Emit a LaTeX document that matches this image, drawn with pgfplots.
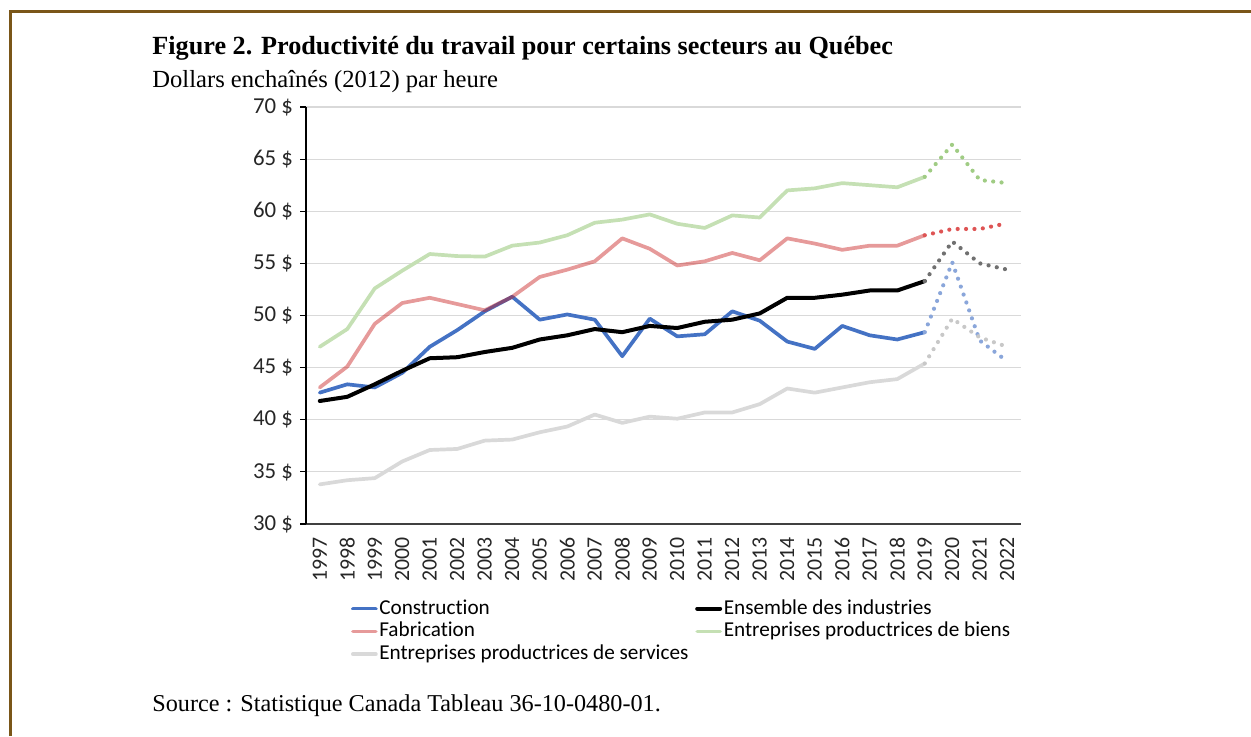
\documentclass[border=0pt]{standalone}
\usepackage{fontspec}
\setmainfont{Liberation Serif}
\newfontfamily\carlito[Ligatures=NoCommon]{Carlito}
\usepackage{pgfplots}
\pgfplotsset{compat=1.18}
\definecolor{framebrown}{RGB}{122,86,24}
\definecolor{cblue}{RGB}{68,114,196}
\definecolor{cblued}{RGB}{138,166,218}
\definecolor{cred}{RGB}{200,30,30}
\definecolor{credd}{RGB}{222,84,84}
\definecolor{cgreen}{RGB}{197,224,180}
\definecolor{cgreend}{RGB}{160,204,132}
\definecolor{cgray}{RGB}{217,217,217}
\definecolor{cgrayd}{RGB}{200,200,200}
\definecolor{cblackd}{RGB}{112,112,112}
\definecolor{gridgray}{RGB}{217,217,217}
\begin{document}
\begin{tikzpicture}
\path[use as bounding box] (0,0) rectangle (625.5pt,368pt);
\draw[framebrown, line width=1.5pt] (5pt,0pt) -- (5pt,362.5pt) -- (625.5pt,362.5pt);
\node[anchor=base west, inner sep=0pt, font=\bfseries\fontsize{13.1}{15}\selectfont] at (76pt,341pt) {Figure 2. Productivité du travail pour certains secteurs au Québec};
\node[anchor=base west, inner sep=0pt, font=\fontsize{12.3}{14}\selectfont] at (76pt,324.5pt) {Dollars enchaînés (2012) par heure};
\node[anchor=base west, inner sep=0pt, font=\fontsize{12.1}{14}\selectfont] at (76pt,12.5pt) {Source : Statistique Canada Tableau 36-10-0480-01.};
\begin{axis}[
  at={(153pt,106pt)}, anchor=south west, scale only axis,
  width=357.5pt, height=208.5pt,
  xmin=1996.5, xmax=2022.5, ymin=30, ymax=70,
  xtick={1997,...,2022}, ytick={30,35,...,70},
  axis x line=bottom, axis y line=left,
  x axis line style={-, draw=black!75, line width=0.8pt},
  y axis line style={-, draw=black, line width=0.7pt},
  ymajorgrids, grid style={draw=gridgray, line width=0.6pt},
  tick align=outside, major tick length=3pt,
  xtick style={draw=none},
  ytick style={draw=black, line width=0.6pt},
  /pgf/number format/assume math mode=true,
  /pgf/number format/1000 sep={},
  tick label style={font=\carlito\fontsize{10.9}{13}\selectfont, text=black!85},
  xticklabel style={rotate=90, anchor=east, xshift=0pt},
  yticklabel style={font=\carlito\fontsize{11.4}{13}\selectfont},
  yticklabel={\pgfmathprintnumber{\tick}~\$},
  legend columns=2,
  legend cell align=left,
  legend image code/.code={\draw[#1] (0pt,0pt) -- (11.5pt,0pt);},
  legend style={draw=none, fill=none, at={(0.054,-0.165)}, anchor=north west,
    font=\carlito\fontsize{10.6}{13}\selectfont,
    nodes={inner sep=0.8pt, text height=7.6pt, text depth=2.2pt},
    /tikz/every even column/.append style={column sep=2.6pt}},
  every axis plot/.append style={line join=round, line cap=round},
]
% solid series
\addplot[cblue, line width=1.85pt] coordinates {(1997,42.6)(1998,43.4)(1999,43.1)(2000,44.5)(2001,47.0)(2002,48.6)(2003,50.4)(2004,51.8)(2005,49.6)(2006,50.1)(2007,49.6)(2008,46.1)(2009,49.7)(2010,48.0)(2011,48.2)(2012,50.4)(2013,49.5)(2014,47.5)(2015,46.8)(2016,49.0)(2017,48.1)(2018,47.7)(2019,48.4)};
\addlegendentry{Construction}
\addplot[black, line width=2pt] coordinates {(1997,41.8)(1998,42.2)(1999,43.4)(2000,44.7)(2001,45.9)(2002,46.0)(2003,46.5)(2004,46.9)(2005,47.7)(2006,48.1)(2007,48.7)(2008,48.4)(2009,49.0)(2010,48.8)(2011,49.4)(2012,49.6)(2013,50.2)(2014,51.7)(2015,51.7)(2016,52.0)(2017,52.4)(2018,52.4)(2019,53.3)};
\addlegendentry{Ensemble des industries}
\addplot[cred, draw opacity=0.45, line width=1.85pt] coordinates {(1997,43.1)(1998,45.1)(1999,49.2)(2000,51.2)(2001,51.7)(2002,51.1)(2003,50.5)(2004,51.8)(2005,53.7)(2006,54.4)(2007,55.2)(2008,57.4)(2009,56.4)(2010,54.8)(2011,55.2)(2012,56.0)(2013,55.3)(2014,57.4)(2015,56.9)(2016,56.3)(2017,56.7)(2018,56.7)(2019,57.7)};
\addlegendentry{Fabrication}
\addplot[cgreen, line width=1.85pt] coordinates {(1997,47.0)(1998,48.7)(1999,52.6)(2000,54.3)(2001,55.9)(2002,55.7)(2003,55.65)(2004,56.7)(2005,57.0)(2006,57.7)(2007,58.9)(2008,59.2)(2009,59.7)(2010,58.8)(2011,58.4)(2012,59.6)(2013,59.4)(2014,62.0)(2015,62.2)(2016,62.7)(2017,62.5)(2018,62.3)(2019,63.3)};
\addlegendentry{Entreprises productrices de biens}
\addplot[cgray, line width=1.85pt] coordinates {(1997,33.8)(1998,34.2)(1999,34.4)(2000,36.0)(2001,37.1)(2002,37.2)(2003,38.0)(2004,38.1)(2005,38.8)(2006,39.35)(2007,40.5)(2008,39.7)(2009,40.3)(2010,40.1)(2011,40.7)(2012,40.7)(2013,41.5)(2014,43.0)(2015,42.6)(2016,43.1)(2017,43.6)(2018,43.9)(2019,45.4)};
\addlegendentry{Entreprises productrices de services}
% dotted projections
\addplot[forget plot, cblued, line width=2.1pt, dash pattern=on 0pt off 4.2pt] coordinates {(2019,48.4)(2020,55.1)(2021,47.6)(2022,45.6)};
\addplot[forget plot, cblackd, line width=2.1pt, dash pattern=on 0pt off 4.2pt] coordinates {(2019,53.3)(2020,57.1)(2021,55.0)(2022,54.4)};
\addplot[forget plot, credd, line width=2.1pt, dash pattern=on 0pt off 4.2pt] coordinates {(2019,57.7)(2020,58.3)(2021,58.3)(2022,58.85)};
\addplot[forget plot, cgreend, line width=2.1pt, dash pattern=on 0pt off 4.2pt] coordinates {(2019,63.3)(2020,66.4)(2021,63.0)(2022,62.7)};
\addplot[forget plot, cgrayd, line width=2.1pt, dash pattern=on 0pt off 4.2pt] coordinates {(2019,45.4)(2020,49.7)(2021,47.9)(2022,47.0)};
\end{axis}
\end{tikzpicture}
\end{document}
